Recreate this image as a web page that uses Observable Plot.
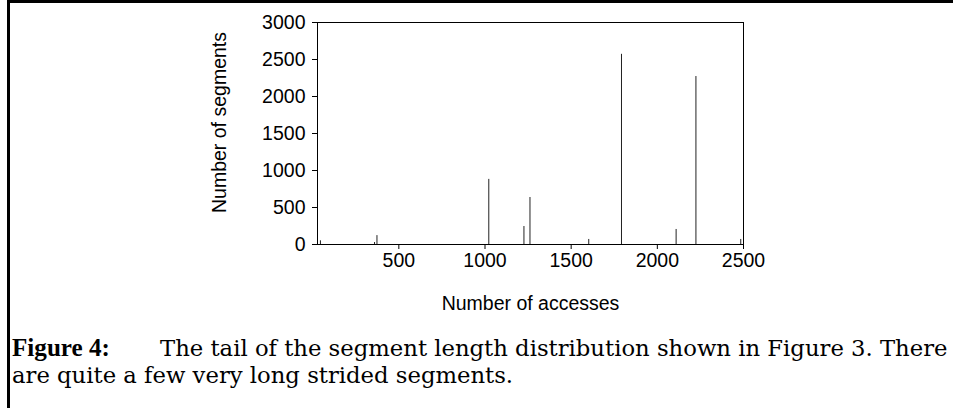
<!DOCTYPE html>
<html>
<head>
<meta charset="utf-8">
<script src="https://cdn.jsdelivr.net/npm/d3@7"></script>
<script src="https://cdn.jsdelivr.net/npm/@observablehq/plot@0.6"></script>
<style>
  html, body { margin: 0; padding: 0; background: #fff; }
  #wrap { position: relative; width: 953px; height: 408px; overflow: hidden; background: #fff; }
  #border { position: absolute; left: 7px; top: 0; width: 946px; height: 408px; box-sizing: border-box;
            border-top: 3px solid #000; border-left: 3px solid #000; pointer-events: none; }
  #chart { position: absolute; left: 0; top: 0; }
  .cap { position: absolute; font-family: "DejaVu Serif", serif; font-size: 21px;
         color: #000; white-space: nowrap; line-height: 1; }
  #capB { font-family: "Liberation Serif", serif; font-weight: bold; }
</style>
</head>
<body>
<div id="wrap">
  <div id="chart"></div>
  <div id="border"></div>
  <div class="cap" id="capB"><span>Figure 4:</span></div>
  <div class="cap" id="cap1"><span>The tail of the segment length distribution shown in Figure 3. There</span></div>
  <div class="cap" id="cap2"><span>are quite a few very long strided segments.</span></div>
</div>
<script>
const accesses = [45, 359, 373, 1022, 1226, 1261, 1602, 1792, 2109, 2224, 2484];
const segments = [50, 27, 120, 880, 243, 635, 68, 2570, 203, 2270, 68];
const xTicks = [500, 1000, 1500, 2000, 2500];
const yTicks = [0, 500, 1000, 1500, 2000, 2500, 3000];
const xLabel = "Number of accesses";
const yLabel = "Number of segments";

const data = accesses.map((a, i) => ({accesses: a, segments: segments[i]}));

const chart = Plot.plot({
  width: 953,
  height: 325,
  marginLeft: 317,
  marginRight: 210,
  marginTop: 22,
  marginBottom: 81,
  style: {fontFamily: "'Liberation Sans', Arial, sans-serif", fontSize: "19.5px", color: "#000", background: "transparent"},
  x: {domain: [28, 2500]},
  y: {domain: [0, 3000]},
  marks: [
    Plot.axisX({ticks: xTicks, tickSize: 5, tickPadding: 4, tickFormat: d3.format("d"), label: null, fontSize: 19.5}),
    Plot.axisY({ticks: yTicks, tickSize: 5, tickPadding: 7, tickFormat: d3.format("d"), label: null, fontSize: 19.5}),
    Plot.ruleX(data, {x: "accesses", y1: 0, y2: "segments", stroke: "#222", strokeWidth: 1}),
    Plot.frame({stroke: "#000"}),
    Plot.text([xLabel], {frameAnchor: "bottom", dy: 65, fontSize: 19.5, fill: "#000"}),
    Plot.text([yLabel], {frameAnchor: "left", textAnchor: "middle", rotate: -90, dx: -98, dy: -11, fontSize: 19.5, fill: "#000"})
  ]
});
document.getElementById("chart").appendChild(chart);

function fitSize(id, target) {
  const el = document.getElementById(id);
  const span = el.querySelector("span");
  const w = span.getBoundingClientRect().width;
  const fs = parseFloat(getComputedStyle(el).fontSize);
  const nfs = fs * target / w;
  el.style.fontSize = nfs + "px";
  return nfs;
}
function put(id, left, baseline, fs, k) {
  const el = document.getElementById(id);
  el.style.left = left + "px";
  el.style.top = (baseline - k * fs) + "px";
}
const fs1 = fitSize("cap1", 788);
document.getElementById("cap2").style.fontSize = fs1 + "px";
const fsB = fitSize("capB", 98);
put("capB", 12, 356, fsB, 0.84);
put("cap1", 160, 356, fs1, 0.846);
put("cap2", 12, 383, fs1, 0.846);
</script>
</body>
</html>
